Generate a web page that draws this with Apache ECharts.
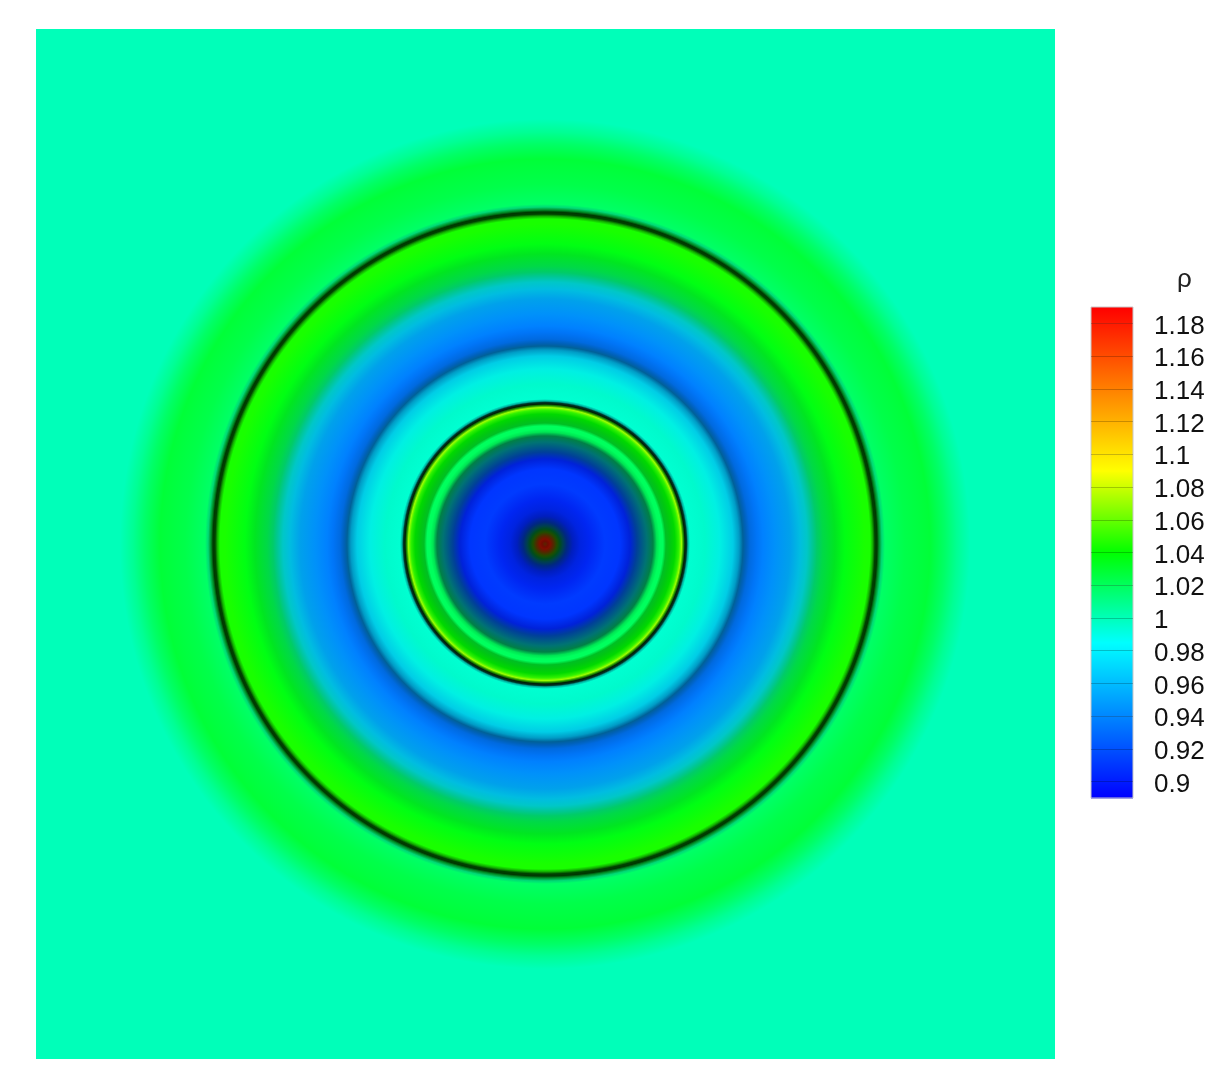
<!DOCTYPE html>
<html><head><meta charset="utf-8">
<style>html,body{margin:0;padding:0;background:#fff}#c{width:1228px;height:1092px}</style>
<script src="https://cdn.jsdelivr.net/npm/echarts@6/dist/echarts.min.js"></script>
</head><body><div id="c"></div>
<script>
// Radial profile: distance from the centre, density, schlieren-like shading
const ringRadii = [0,3,5,8,12,15,18,22,28,35,45,60,75,85,92,102,108,112,115,118,121,125,130,134,136.5,138.5,140,141.5,143,145,160,175,188,194,198,201,205,212,218,230,245,255,262,268,272,278,290,300,320,325,327.5,330,332,334,337,340,360,385,400,412,425];
const ringRho   = [1.15,1.18,1.18,1.15,1.06,1.02,0.97,0.92,0.905,0.905,0.905,0.912,0.91,0.905,0.93,0.985,1.01,1.02,1.02,1.02,1.03,1.035,1.04,1.05,1.07,1.05,1.03,1.0,0.99,0.995,0.995,0.988,0.975,0.965,0.95,0.94,0.935,0.935,0.938,0.945,0.955,0.97,0.985,1.0,1.012,1.022,1.032,1.036,1.045,1.045,1.045,1.04,1.04,1.025,1.01,1.018,1.024,1.028,1.018,1.008,1.0];
const ringShade = [0.35,0.45,0.5,0.35,0.3,0.3,0.3,0.5,0.75,0.88,0.95,1,1,0.85,0.6,0.45,0.5,0.9,1,1,0.75,0.78,0.85,0.95,1,0.55,0.12,0.2,0.7,1,0.98,0.94,0.9,0.78,0.6,0.72,0.88,0.97,1,0.98,0.92,0.88,0.78,0.78,0.8,0.85,0.9,1,1,1,0.7,0.25,0.22,0.55,0.85,1,1,1,1,1,1];
const backgroundRho = 1.0;
// Colour scale
const scaleStops = [0.89,0.985,1.04,1.09,1.19];
const scaleColors = [[0,0,255],[0,255,255],[0,255,0],[255,255,0],[255,0,0]];
// Colour bar
const barLevels = [0.89,0.9,0.92,0.94,0.96,0.98,0.985,1,1.02,1.04,1.06,1.08,1.09,1.1,1.12,1.14,1.16,1.18,1.19];
const tickValues = [0.9,0.92,0.94,0.96,0.98,1,1.02,1.04,1.06,1.08,1.1,1.12,1.14,1.16,1.18];
const barTitle = 'ρ';

function colorOf(v, shade){
  shade = shade === undefined ? 1 : shade;
  let i = 0;
  while (i < scaleStops.length - 2 && v > scaleStops[i+1]) i++;
  const t = Math.max(0, Math.min(1, (v - scaleStops[i]) / (scaleStops[i+1] - scaleStops[i])));
  const c = scaleColors[i].map((a, k) => Math.round((a + (scaleColors[i+1][k] - a) * t) * shade));
  return 'rgb(' + c.join(',') + ')';
}

const ringData = ringRadii.map((r, i) => [r, ringRho[i], ringShade[i], i]).slice(1).reverse();
const barData = barLevels.slice(0, -1).map((v, i) => [v, barLevels[i+1]]);

const chart = echarts.init(document.getElementById('c'), null, {renderer:'canvas'});
chart.setOption({
  animation:false,
  backgroundColor:'#fff',
  title:{text:barTitle,left:1172,top:262,textStyle:{fontFamily:'Liberation Sans',fontSize:26,fontWeight:'normal',color:'#222'}},
  grid:[
    {left:36,top:29,width:1019,height:1030,show:true,backgroundColor:colorOf(backgroundRho),borderWidth:0},
    {left:1091,top:307,width:42,height:491,show:true,borderColor:'#c8c8c8',borderWidth:1,backgroundColor:'transparent',z:4}
  ],
  xAxis:[
    {type:'value',gridIndex:0,min:-509,max:510,show:false},
    {type:'value',gridIndex:1,min:0,max:1,show:false}
  ],
  yAxis:[
    {type:'value',gridIndex:0,min:-515,max:515,show:false},
    {type:'value',gridIndex:1,position:'right',min:0.89,max:1.19,z:6,
     splitLine:{show:false},axisLine:{show:false,onZero:false},
     axisTick:{show:true,inside:true,length:42,customValues:tickValues,lineStyle:{color:'rgba(0,0,0,0.22)',width:1}},
     axisLabel:{show:true,customValues:tickValues,margin:21,fontFamily:'Liberation Sans',fontSize:26,color:'#111',
       formatter:v=>String(Math.round(v*100)/100),verticalAlign:'top',lineHeight:6}}
  ],
  series:[
    {type:'custom',coordinateSystem:'cartesian2d',xAxisIndex:0,yAxisIndex:0,clip:true,silent:true,
     data:ringData,encode:{x:0,y:1},
     renderItem:function(params,api){
       const idx = api.value(3), r = api.value(0);
       const r0 = ringRadii[idx-1];
       const c = api.coord([0,0]);
       const px = api.size([r,0])[0], px0 = api.size([r0,0])[0];
       return {type:'circle',shape:{cx:c[0],cy:c[1],r:px},style:{fill:new echarts.graphic.RadialGradient(0.5,0.5,0.5,[
         {offset:0,color:colorOf(ringRho[idx-1],ringShade[idx-1])},
         {offset:px0/px,color:colorOf(ringRho[idx-1],ringShade[idx-1])},
         {offset:1,color:colorOf(ringRho[idx],ringShade[idx])}
       ])}};
     }},
    {type:'custom',coordinateSystem:'cartesian2d',xAxisIndex:1,yAxisIndex:1,silent:true,
     data:barData,encode:{y:[0,1]},
     renderItem:function(params,api){
       const lo = api.value(0), hi = api.value(1);
       const a = api.coord([0,lo]), b = api.coord([1,hi]);
       return {type:'rect',shape:{x:a[0],y:b[1],width:b[0]-a[0],height:a[1]-b[1]+0.5},
         style:{fill:new echarts.graphic.LinearGradient(0,0,0,1,[{offset:0,color:colorOf(hi)},{offset:1,color:colorOf(lo)}])}};
     }}
  ]
});
</script></body></html>
